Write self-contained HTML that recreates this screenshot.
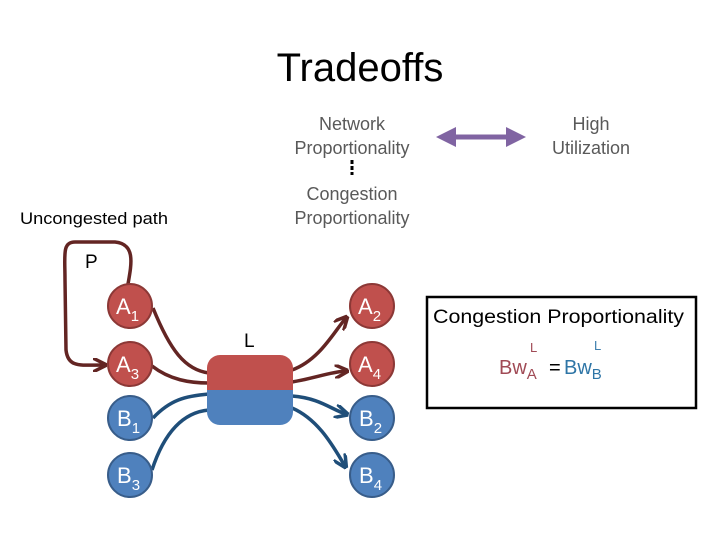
<!DOCTYPE html>
<html><head><style>
body{margin:0;width:720px;height:540px;background:#fff;overflow:hidden}
</style></head><body>
<svg width="720" height="540" xmlns="http://www.w3.org/2000/svg" font-family="Liberation Sans, sans-serif">
<defs>
<marker id="ar" viewBox="0 0 10 10" refX="8" refY="5" markerWidth="4" markerHeight="4" orient="auto"><path d="M0,0 L10,5 L0,10" fill="none" stroke="#632523" stroke-width="2.5"/></marker>
<marker id="ab" viewBox="0 0 10 10" refX="8" refY="5" markerWidth="4" markerHeight="4" orient="auto"><path d="M0,0 L10,5 L0,10" fill="none" stroke="#1f4e79" stroke-width="2.5"/></marker>
<marker id="ap" viewBox="0 0 10 10" refX="5" refY="5" markerWidth="4" markerHeight="4" orient="auto-start-reverse"><path d="M0,0 L10,5 L0,10 z" fill="#8064a2"/></marker>
</defs>
<text x="360" y="81" font-size="40" text-anchor="middle">Tradeoffs</text>
<g font-size="18" fill="#595959" text-anchor="middle">
<text x="352" y="130">Network</text><text x="352" y="154">Proportionality</text>
<text x="352" y="200">Congestion</text><text x="352" y="224">Proportionality</text>
<text x="591" y="130">High</text><text x="591" y="154">Utilization</text>
</g>
<line x1="352" y1="160" x2="352" y2="175" stroke="#000" stroke-width="3" stroke-dasharray="4,2"/>
<line x1="446" y1="137" x2="516" y2="137" stroke="#8064a2" stroke-width="5" marker-start="url(#ap)" marker-end="url(#ap)"/>
<text x="20" y="224" font-size="17" textLength="148" lengthAdjust="spacingAndGlyphs">Uncongested path</text>
<text x="85" y="268" font-size="19">P</text>
<text x="244" y="347" font-size="19">L</text>
<g fill="none" stroke-width="3.5">
<path d="M128,284 C132,262 135,244 115,242 L75,242 C62,242 65,255 65,280 L66,350 C68,368 80,365 104,365" stroke="#632523" marker-end="url(#ar)"/>
<path d="M153,308 C170,350 185,370 209,373" stroke="#632523"/>
<path d="M152,366 C170,380 190,383 209,383" stroke="#632523"/>
<path d="M292,370 C320,360 335,330 346,318" stroke="#632523" marker-end="url(#ar)"/>
<path d="M292,382 C315,378 330,372 346,371" stroke="#632523" marker-end="url(#ar)"/>
<path d="M153,418 C170,400 185,396 209,394" stroke="#1f4e79"/>
<path d="M152,470 C165,430 185,412 209,410" stroke="#1f4e79"/>
<path d="M292,396 C320,398 332,410 346,414" stroke="#1f4e79" marker-end="url(#ab)"/>
<path d="M292,408 C320,420 335,450 345,466" stroke="#1f4e79" marker-end="url(#ab)"/>
</g>
<clipPath id="c"><rect x="207" y="355" width="86" height="70" rx="13"/></clipPath>
<g clip-path="url(#c)"><rect x="207" y="355" width="86" height="35" fill="#c0504d"/><rect x="207" y="390" width="86" height="35" fill="#4f81bd"/></g>
<g stroke-width="2">
<circle cx="130" cy="306" r="22" fill="#c0504d" stroke="#8c3836"/>
<circle cx="130" cy="364" r="22" fill="#c0504d" stroke="#8c3836"/>
<circle cx="130" cy="418" r="22" fill="#4f81bd" stroke="#385d8a"/>
<circle cx="130" cy="475" r="22" fill="#4f81bd" stroke="#385d8a"/>
<circle cx="372" cy="306" r="22" fill="#c0504d" stroke="#8c3836"/>
<circle cx="372" cy="364" r="22" fill="#c0504d" stroke="#8c3836"/>
<circle cx="372" cy="418" r="22" fill="#4f81bd" stroke="#385d8a"/>
<circle cx="372" cy="475" r="22" fill="#4f81bd" stroke="#385d8a"/>
</g>
<g fill="#fff" font-size="22">
<text x="116" y="314">A<tspan font-size="15" dy="7">1</tspan></text>
<text x="116" y="372">A<tspan font-size="15" dy="7">3</tspan></text>
<text x="117" y="426">B<tspan font-size="15" dy="7">1</tspan></text>
<text x="117" y="483">B<tspan font-size="15" dy="7">3</tspan></text>
<text x="358" y="314">A<tspan font-size="15" dy="7">2</tspan></text>
<text x="358" y="372">A<tspan font-size="15" dy="7">4</tspan></text>
<text x="359" y="426">B<tspan font-size="15" dy="7">2</tspan></text>
<text x="359" y="483">B<tspan font-size="15" dy="7">4</tspan></text>
</g>
<rect x="427" y="297" width="269" height="111" fill="none" stroke="#000" stroke-width="2.5"/>
<text x="433" y="323" font-size="19" textLength="251" lengthAdjust="spacingAndGlyphs">Congestion Proportionality</text>
<text x="530" y="352" font-size="13" fill="#a04a55">L</text>
<text x="594" y="350" font-size="13" fill="#3f7fae">L</text>
<text x="499" y="374" font-size="20" fill="#a04a55">Bw<tspan font-size="15" dy="5">A</tspan></text>
<text x="549" y="374" font-size="20">=</text>
<text x="564" y="374" font-size="20" fill="#2e75a6">Bw<tspan font-size="15" dy="5">B</tspan></text>
</svg>
</body></html>
